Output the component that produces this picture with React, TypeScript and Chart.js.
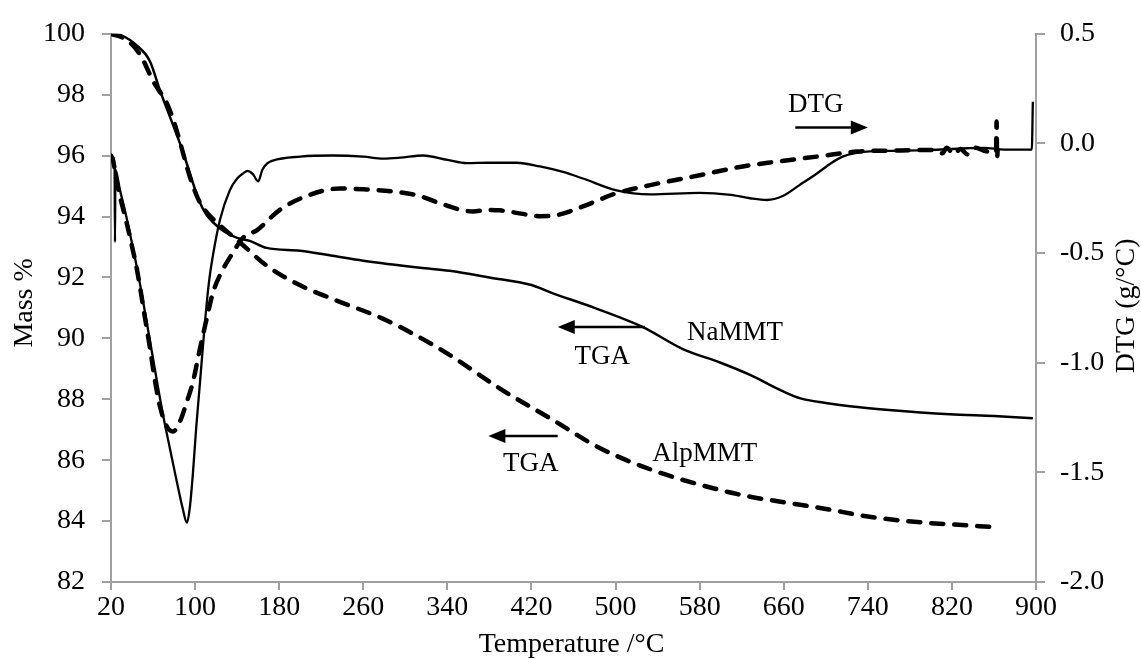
import React, { useEffect, useRef } from "react";
import { Chart, registerables } from "chart.js";

Chart.register(...registerables);

// ---------- axis ticks ----------
const xTicks = [20, 100, 180, 260, 340, 420, 500, 580, 660, 740, 820, 900];
const massTicks = [82, 84, 86, 88, 90, 92, 94, 96, 98, 100];
const dtgTicks = [-2, -1.5, -1, -0.5, 0, 0.5];

// ---------- NaMMT TGA (solid, left axis) ----------
const naTgaT = [20, 30, 45, 57, 67, 78, 85.6, 92, 98, 104, 111, 118, 128, 140, 152, 168, 200, 231, 260, 314, 342, 380, 420, 438, 480, 526, 564, 600, 628, 660, 676, 700, 723, 760, 818, 860, 897];
const naTgaMass = [100, 99.95, 99.6, 99.1, 98.1, 97.1, 96.4, 95.75, 95.1, 94.5, 94.05, 93.78, 93.5, 93.3, 93.2, 92.97, 92.88, 92.71, 92.55, 92.32, 92.22, 92.0, 91.75, 91.51, 91.0, 90.37, 89.65, 89.2, 88.8, 88.25, 88.03, 87.88, 87.77, 87.65, 87.51, 87.45, 87.38];

// ---------- AlpMMT TGA (dashed, left axis) ----------
const alpTgaT = [20, 35, 48, 60, 73.3, 80, 86, 92, 98, 104.7, 112, 124, 143, 168, 200, 231, 279, 310, 342, 390, 438, 485, 533, 596, 628, 660, 700, 740, 790, 830, 860];
const alpTgaMass = [100, 99.8, 99.3, 98.45, 97.7, 97.1, 96.4, 95.65, 95.0, 94.45, 94.1, 93.7, 93.14, 92.39, 91.74, 91.29, 90.64, 90.1, 89.46, 88.35, 87.37, 86.4, 85.7, 85.05, 84.8, 84.62, 84.4, 84.15, 83.96, 83.87, 83.8];

// ---------- NaMMT DTG (solid, right axis) ----------
const naDtgT = [20, 21.5, 23.4, 23.8, 24.2, 28.6, 33, 38, 46, 54, 63.8, 70, 76, 82.5, 88, 92.3, 95, 98, 101, 104.7, 109.4, 113, 117, 123.7, 133, 140, 145.6, 150, 155, 160, 164, 168.4, 174, 200, 231, 260, 279, 295, 317, 340, 358.5, 380, 406, 428, 450, 469, 501, 533, 580, 610, 628, 644, 659, 675, 691.6, 705, 716, 739, 787, 834, 850, 870, 896, 897];
const naDtgVal = [-0.055, -0.06, -0.1, -0.45, -0.12, -0.214, -0.3, -0.41, -0.6, -0.815, -1.087, -1.25, -1.39, -1.54, -1.66, -1.73, -1.66, -1.5, -1.3, -1.087, -0.815, -0.64, -0.51, -0.348, -0.214, -0.16, -0.137, -0.125, -0.14, -0.173, -0.12, -0.092, -0.078, -0.06, -0.055, -0.06, -0.069, -0.065, -0.055, -0.075, -0.09, -0.088, -0.088, -0.105, -0.13, -0.16, -0.214, -0.232, -0.225, -0.235, -0.25, -0.258, -0.24, -0.19, -0.137, -0.09, -0.06, -0.037, -0.032, -0.022, -0.02, -0.028, -0.028, 0.19];

// ---------- AlpMMT DTG (dashed, right axis) ----------
const alpDtgT = [20, 22, 25.7, 30, 35, 40, 44.7, 52, 57, 62, 66.6, 73, 79, 85.6, 92, 98, 104, 111, 117, 123.7, 136, 145.6, 159, 180.6, 206, 238, 262.5, 294, 314, 333, 364, 380, 390, 410, 428, 444, 469, 501, 533, 580, 621, 650, 691.6, 730, 770, 800, 811, 815, 822, 828, 835, 842, 850, 858, 862, 862.5, 863, 863.5];
const alpDtgVal = [-0.055, -0.08, -0.18, -0.27, -0.364, -0.47, -0.575, -0.785, -0.93, -1.087, -1.2, -1.29, -1.314, -1.268, -1.18, -1.087, -0.95, -0.8, -0.68, -0.6, -0.498, -0.43, -0.395, -0.303, -0.24, -0.205, -0.21, -0.222, -0.24, -0.273, -0.31, -0.303, -0.305, -0.32, -0.332, -0.327, -0.287, -0.227, -0.19, -0.145, -0.105, -0.085, -0.06, -0.037, -0.032, -0.03, -0.045, -0.02, -0.05, -0.025, -0.05, -0.02, -0.032, -0.04, -0.04, 0.1, -0.07, -0.03];

// ---------- annotations (data coordinates: temperature, mass %) ----------
const noteTexts = ["NaMMT", "TGA", "AlpMMT", "TGA", "DTG"];
const noteT = [568, 461, 535, 393, 664];
const noteMass = [89.94, 89.16, 85.97, 85.64, 97.44];

const arrowFromT = [528, 445, 671];
const arrowToT = [445, 379, 740];
const arrowMass = [90.37, 86.79, 96.92];

const xTitle = "Temperature /°C";
const leftTitle = "Mass %";
const rightTitle = "DTG (g/°C)";

const FONT = '"Liberation Serif", "Times New Roman", serif';
const AXIS_GRAY = "#a0a0a0";

const zip = (xs: number[], ys: number[]) => xs.map((x, i) => ({ x, y: ys[i] }));

const overlayPlugin = {
  id: "overlay",
  afterDraw(chart: any) {
    const { ctx, chartArea, scales } = chart;
    const xs = scales.x;
    const ys = scales.y;
    ctx.save();
    ctx.fillStyle = "#000";
    ctx.strokeStyle = "#000";

    // annotation texts
    ctx.font = `27px ${FONT}`;
    ctx.textAlign = "left";
    ctx.textBaseline = "alphabetic";
    noteTexts.forEach((t, i) => {
      ctx.fillText(t, xs.getPixelForValue(noteT[i]), ys.getPixelForValue(noteMass[i]));
    });

    // arrows
    arrowFromT.forEach((from, i) => {
      const x0 = xs.getPixelForValue(from);
      const x1 = xs.getPixelForValue(arrowToT[i]);
      const yy = ys.getPixelForValue(arrowMass[i]);
      const dir = Math.sign(x1 - x0);
      const headLen = 17;
      const halfW = 7;
      ctx.lineWidth = 2.5;
      ctx.beginPath();
      ctx.moveTo(x0, yy);
      ctx.lineTo(x1 - dir * headLen * 0.8, yy);
      ctx.stroke();
      ctx.beginPath();
      ctx.moveTo(x1, yy);
      ctx.lineTo(x1 - dir * headLen, yy - halfW);
      ctx.lineTo(x1 - dir * headLen, yy + halfW);
      ctx.closePath();
      ctx.fill();
    });

    // axis titles
    ctx.font = `28px ${FONT}`;
    ctx.textAlign = "center";
    ctx.textBaseline = "alphabetic";
    ctx.fillText(xTitle, (chartArea.left + chartArea.right) / 2 - 2, chartArea.bottom + 70);

    ctx.save();
    ctx.translate(32, (chartArea.top + chartArea.bottom) / 2 - 5);
    ctx.rotate(-Math.PI / 2);
    ctx.fillText(leftTitle, 0, 0);
    ctx.restore();

    ctx.save();
    ctx.translate(chartArea.right + 98, (chartArea.top + chartArea.bottom) / 2 - 2);
    ctx.rotate(-Math.PI / 2);
    ctx.fillText(rightTitle, 0, 0);
    ctx.restore();

    ctx.restore();
  },
};

export default function App() {
  const canvasRef = useRef<HTMLCanvasElement | null>(null);

  useEffect(() => {
    const canvas = canvasRef.current;
    if (!canvas) return;
    const axisGrid = (len: number) => ({
      display: true,
      drawOnChartArea: false,
      drawTicks: true,
      tickLength: len,
      color: AXIS_GRAY,
      lineWidth: 2,
    });
    const border = { display: true, color: AXIS_GRAY, width: 2 };
    const tickFont = { family: FONT, size: 28 };

    const chart = new Chart(canvas, {
      type: "line",
      data: {
        datasets: [
          {
            label: "NaMMT TGA",
            data: zip(naTgaT, naTgaMass),
            yAxisID: "y",
            borderColor: "#000",
            borderWidth: 2.5,
            pointRadius: 0,
            cubicInterpolationMode: "monotone",
          },
          {
            label: "AlpMMT TGA",
            data: zip(alpTgaT, alpTgaMass),
            yAxisID: "y",
            borderColor: "#000",
            borderWidth: 4.5,
            borderDash: [12, 11],
            borderCapStyle: "round",
            pointRadius: 0,
            cubicInterpolationMode: "monotone",
          },
          {
            label: "NaMMT DTG",
            data: zip(naDtgT, naDtgVal),
            yAxisID: "y1",
            borderColor: "#000",
            borderWidth: 2.3,
            pointRadius: 0,
            cubicInterpolationMode: "monotone",
          },
          {
            label: "AlpMMT DTG",
            data: zip(alpDtgT, alpDtgVal),
            yAxisID: "y1",
            borderColor: "#000",
            borderWidth: 4.5,
            borderDash: [12, 11],
            borderCapStyle: "round",
            pointRadius: 0,
            cubicInterpolationMode: "monotone",
          },
        ],
      },
      options: {
        animation: false,
        responsive: false,
        devicePixelRatio: 1,
        layout: { padding: { top: 29, left: 0, right: 0, bottom: 0 } },
        plugins: { legend: { display: false }, tooltip: { enabled: false } },
        scales: {
          x: {
            type: "linear",
            min: 20,
            max: 900,
            afterBuildTicks: (s: any) => {
              s.ticks = xTicks.map((v) => ({ value: v }));
            },
            afterFit: (s: any) => {
              s.height = 77;
            },
            grid: axisGrid(8),
            border,
            ticks: { font: tickFont, color: "#000", padding: 1, maxRotation: 0, autoSkip: false },
          },
          y: {
            type: "linear",
            position: "left",
            min: 82,
            max: 100,
            afterBuildTicks: (s: any) => {
              s.ticks = massTicks.map((v) => ({ value: v }));
            },
            afterFit: (s: any) => {
              s.width = 111;
            },
            grid: axisGrid(9),
            border,
            ticks: { font: tickFont, color: "#000", padding: 17, callback: (v: any) => String(v) },
          },
          y1: {
            type: "linear",
            position: "right",
            min: -2,
            max: 0.5,
            afterBuildTicks: (s: any) => {
              s.ticks = dtgTicks.map((v) => ({ value: v }));
            },
            afterFit: (s: any) => {
              s.width = 105;
            },
            grid: axisGrid(9),
            border,
            ticks: { font: tickFont, color: "#000", padding: 15, callback: (v: any) => Number(v).toFixed(1) },
          },
        },
      } as any,
      plugins: [overlayPlugin],
    });
    return () => chart.destroy();
  }, []);

  return (
    <div style={{ position: "fixed", left: 0, top: 0, width: 1141, height: 659, background: "#fff" }}>
      <canvas ref={canvasRef} width={1141} height={659} style={{ display: "block" }} />
    </div>
  );
}
